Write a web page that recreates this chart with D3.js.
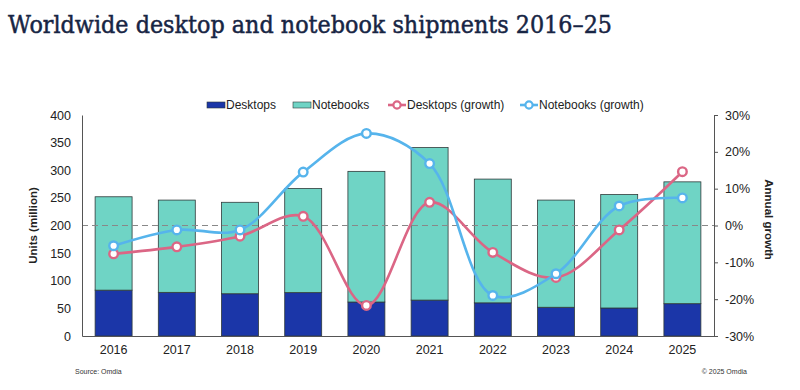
<!DOCTYPE html>
<html><head><meta charset="utf-8">
<script src="https://cdn.jsdelivr.net/npm/d3@7"></script>
<style>body{margin:0;background:#fff;}svg{display:block;}</style>
</head><body>
<svg id="chart" width="800" height="390"></svg>
<script>
const years = ["2016","2017","2018","2019","2020","2021","2022","2023","2024","2025"];
const desktops = [83, 79, 76.5, 78.5, 61.5, 65, 60, 52, 50.7, 58.5];
const totals = [252, 246, 242, 267, 298, 341, 284, 246, 256, 279];
const notebooks = totals.map((t,i)=> +(t - desktops[i]).toFixed(1));
const desktopGrowth = [-7.7, -5.8, -2.9, 2.5, -21.7, 6.3, -7.3, -14.1, -1.2, 14.6];
const notebookGrowth = [-5.5, -1.2, -1.2, 14.5, 25, 16.8, -19, -13.1, 5.3, 7.5];
const leftTicks = [0,50,100,150,200,250,300,350,400];
const rightTicks = [-30,-20,-10,0,10,20,30];

const C = {desk:"#1b36a8", note:"#6fd4c5", pink:"#db6685", blue:"#56b4ec", text:"#222", title:"#172544"};
const svg = d3.select("#chart");
const L = 82, R = 714, T = 115, B = 336;

const x = d3.scaleBand().domain(years).range([L,R]).paddingInner(0.415).paddingOuter(0.2075);
const y = d3.scaleLinear().domain([0,400]).range([B,T]);
const y2 = d3.scaleLinear().domain([-30,30]).range([B,T]);

// title
svg.append("text").attr("x",8).attr("y",33)
  .attr("font-family","DejaVu Serif").attr("font-size",25)
  .attr("fill",C.title).attr("stroke",C.title).attr("stroke-width",0.5)
  .attr("textLength",604).attr("lengthAdjust","spacingAndGlyphs")
  .text("Worldwide desktop and notebook shipments 2016–25");

// bars
const stack = years.map((yr,i)=>({yr, d:desktops[i], n:notebooks[i]}));
const g = svg.append("g");
g.selectAll(".bd").data(stack).join("rect")
  .attr("x",d=>x(d.yr)).attr("width",x.bandwidth())
  .attr("y",d=>y(d.d)).attr("height",d=>y(0)-y(d.d))
  .attr("fill",C.desk).attr("stroke","#2f3a3a").attr("stroke-width",0.8);
g.selectAll(".bn").data(stack).join("rect")
  .attr("x",d=>x(d.yr)).attr("width",x.bandwidth())
  .attr("y",d=>y(d.d+d.n)).attr("height",d=>y(d.d)-y(d.d+d.n))
  .attr("fill",C.note).attr("stroke","#2f3a3a").attr("stroke-width",0.8);

// zero dashed line
svg.append("line").attr("x1",L).attr("x2",R).attr("y1",y2(0)).attr("y2",y2(0))
  .attr("stroke","#888").attr("stroke-width",1.2).attr("stroke-dasharray","6,4");

// axes
const font = "Liberation Sans, Arial, sans-serif";
const ax = svg.append("g").attr("transform",`translate(${L},0)`).call(d3.axisLeft(y).tickValues(leftTicks).tickSize(0).tickPadding(11));
ax.select(".domain").attr("stroke","#555");
ax.selectAll("text").attr("font-family",font).attr("font-size",12.5).attr("fill",C.text);

const ar = svg.append("g").attr("transform",`translate(${R},0)`).call(d3.axisRight(y2).tickValues(rightTicks).tickSize(4).tickPadding(7).tickFormat(d=>d+"%"));
ar.select(".domain").attr("stroke","#555");
ar.selectAll("line").attr("stroke","#555");
ar.selectAll("text").attr("font-family",font).attr("font-size",12.5).attr("fill",C.text);

const ab = svg.append("g").attr("transform",`translate(0,${B})`).call(d3.axisBottom(x).tickSize(0).tickPadding(9));
ab.select(".domain").attr("stroke","#555");
ab.selectAll("text").attr("font-family",font).attr("font-size",12.5).attr("fill",C.text);

// axis titles
svg.append("text").attr("transform",`translate(37,${(T+B)/2}) rotate(-90)`).attr("text-anchor","middle")
  .attr("font-family",font).attr("font-weight","bold").attr("font-size",11.5).attr("fill",C.text).text("Units (million)");
svg.append("text").attr("transform",`translate(765,${(T+B)/2-6}) rotate(90)`).attr("text-anchor","middle")
  .attr("font-family",font).attr("font-weight","bold").attr("font-size",11.5).attr("fill",C.text).text("Annual growth");

// lines
const cx = d=>x(d.yr)+x.bandwidth()/2;
function series(vals,color){
  const pts = years.map((yr,i)=>({yr,v:vals[i]}));
  svg.append("path").datum(pts)
    .attr("d",d3.line().x(cx).y(d=>y2(d.v)).curve(d3.curveCatmullRom.alpha(0.5)))
    .attr("fill","none").attr("stroke",color).attr("stroke-width",2.6);
  svg.selectAll(null).data(pts).join("circle")
    .attr("cx",cx).attr("cy",d=>y2(d.v)).attr("r",4.3)
    .attr("fill","#fff").attr("stroke",color).attr("stroke-width",2.4);
}
series(desktopGrowth,C.pink);
series(notebookGrowth,C.blue);

// legend
const lg = svg.append("g").attr("font-family",font).attr("font-size",12).attr("fill",C.text);
const ly = 105;
lg.append("rect").attr("x",207).attr("y",ly-3).attr("width",18).attr("height",6).attr("fill",C.desk).attr("stroke","#2f3a3a").attr("stroke-width",0.6);
lg.append("text").attr("x",226).attr("y",ly+4).text("Desktops");
lg.append("rect").attr("x",293).attr("y",ly-3).attr("width",18).attr("height",6).attr("fill",C.note).attr("stroke","#2f3a3a").attr("stroke-width",0.6);
lg.append("text").attr("x",312).attr("y",ly+4).text("Notebooks");
[[388,C.pink,"Desktops (growth)"],[520,C.blue,"Notebooks (growth)"]].forEach(([lx,c,t])=>{
  lg.append("line").attr("x1",lx).attr("x2",lx+18).attr("y1",ly).attr("y2",ly).attr("stroke",c).attr("stroke-width",2.6);
  lg.append("circle").attr("cx",lx+9).attr("cy",ly).attr("r",3.6).attr("fill","#fff").attr("stroke",c).attr("stroke-width",2.2);
  lg.append("text").attr("x",lx+19).attr("y",ly+4).text(t);
});

// footer
svg.append("text").attr("x",75).attr("y",374).attr("font-family",font).attr("font-size",7).attr("fill","#333").text("Source: Omdia");
svg.append("text").attr("x",747).attr("y",374).attr("text-anchor","end").attr("font-family",font).attr("font-size",7).attr("fill","#333").text("© 2025 Omdia");
</script>
</body></html>
